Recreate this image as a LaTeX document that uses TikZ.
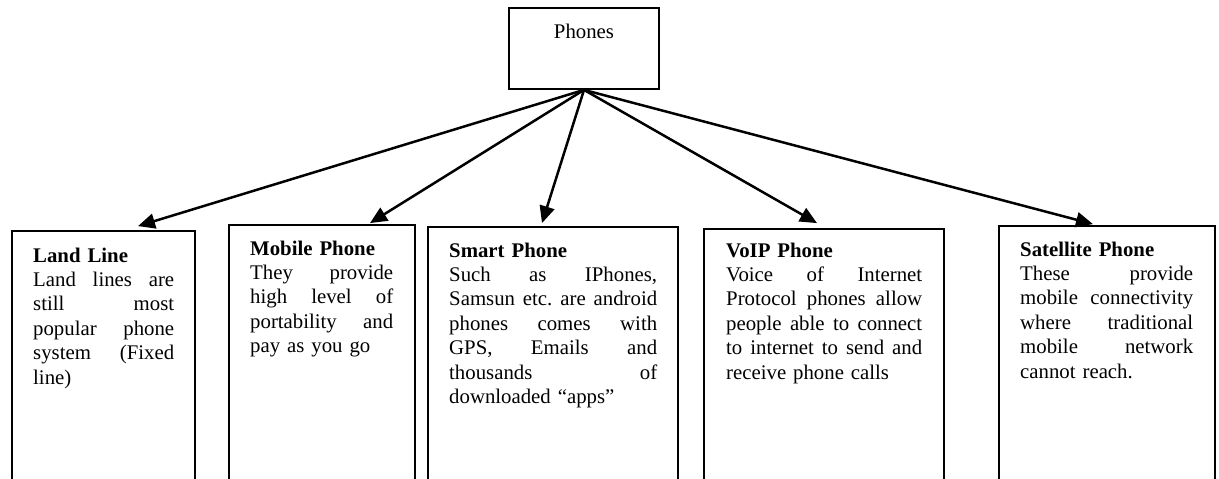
\documentclass[tikz,border=0pt]{standalone}
\usepackage{fontspec}
\setmainfont{Liberation Serif}
\usetikzlibrary{arrows.meta}
\begin{document}
\frenchspacing
% one fully justified line of a description: words spread over the width
\def\descw{100pt}
\newcommand\jl[1]{\leavevmode\hbox to \descw{#1}}
\begin{tikzpicture}[x=1pt,y=-1pt,
  every node/.style={font=\fontsize{20.8}{24.4}\selectfont},
  box/.style={draw,line width=1.8pt,inner sep=0pt},
  txt/.style={anchor=base west,inner sep=0pt,align=left,text width=#1,
    execute at begin node={\gdef\descw{#1}}},
  arr/.style={line width=2.5pt,-{Triangle[length=17pt,width=15pt]}}]
\path[use as bounding box] (0,0) rectangle (1219,479);
\clip (0,0) rectangle (1219,479);

% root
\node[box,minimum width=150pt,minimum height=81pt] (phones) at (584,48.5) {};
\node[anchor=base,inner sep=0pt] (phonestxt) at (584,38) {Phones};

% category boxes (open at the bottom edge)
\node[box,minimum width=183pt,minimum height=269pt] (land)   at (103.5,365.5) {};
\node[box,minimum width=186pt,minimum height=275pt] (mobile) at (322,362.5) {};
\node[box,minimum width=250pt,minimum height=273pt] (smart)  at (553,363.5) {};
\node[box,minimum width=240pt,minimum height=271pt] (voip)   at (824,364.5) {};
\node[box,minimum width=216pt,minimum height=274pt] (sat)    at (1107,363) {};

% descriptions
\node[txt=141pt] (landtxt) at (33,262) {\textbf{Land Line}\\
  \jl{Land\hfill lines\hfill are}\\ \jl{still\hfill most}\\ \jl{popular\hfill phone}\\
  \jl{system\hfill (Fixed}\\ line)};
\node[txt=143pt] (mobiletxt) at (250,255) {\textbf{Mobile Phone}\\
  \jl{They\hfill provide}\\ \jl{high\hfill level\hfill of}\\ \jl{portability\hfill and}\\ pay as you go};
\node[txt=208pt] (smarttxt) at (449,257) {\textbf{Smart Phone}\\
  \jl{Such\hfill as\hfill IPhones,}\\ \jl{Samsun\hfill etc.\hfill are\hfill android}\\
  \jl{phones\hfill comes\hfill with}\\ \jl{GPS,\hfill Emails\hfill and}\\
  \jl{thousands\hfill of}\\ downloaded “apps”};
\node[txt=196pt] (voiptxt) at (726,257) {\textbf{VoIP Phone}\\
  \jl{Voice\hfill of\hfill Internet}\\ \jl{Protocol\hfill phones\hfill allow}\\
  \jl{people\hfill able\hfill to\hfill connect}\\ \jl{to\hfill internet\hfill to\hfill send\hfill and}\\
  receive phone calls};
\node[txt=173pt] (sattxt) at (1020,256) {\textbf{Satellite Phone}\\
  \jl{These\hfill provide}\\ \jl{mobile\hfill connectivity}\\ \jl{where\hfill traditional}\\
  \jl{mobile\hfill network}\\ cannot reach.};

% connectors
\draw[arr] (phones.south) -- ([xshift=34.5pt,yshift=4pt]land.north);
\draw[arr] (phones.south) -- ([xshift=48pt,yshift=1pt]mobile.north);
\draw[arr] (phones.south) -- ([xshift=-11pt,yshift=3pt]smart.north);
\draw[arr] (phones.south) -- ([xshift=-7pt,yshift=5pt]voip.north);
\draw[arr] (phones.south) -- ([xshift=-14pt,yshift=1pt]sat.north);
\end{tikzpicture}
\end{document}
